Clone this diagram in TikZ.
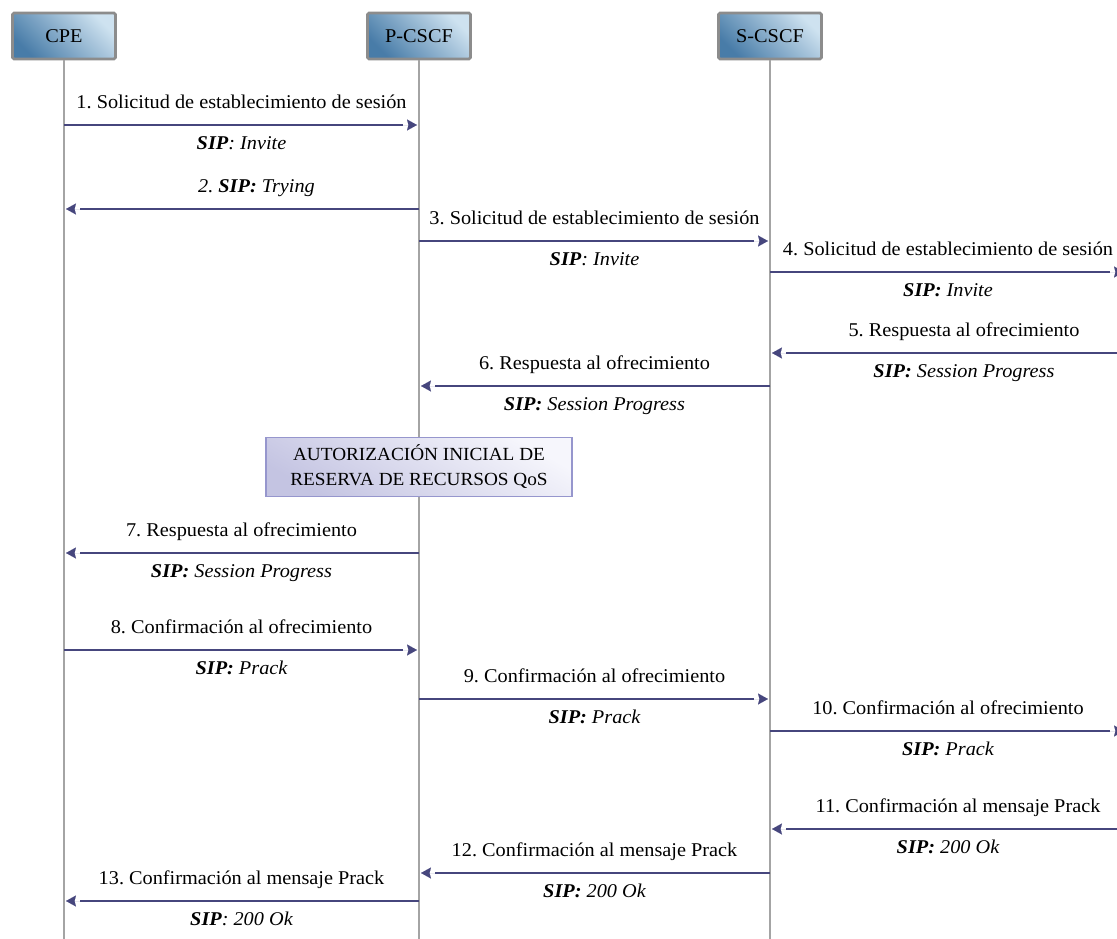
\documentclass[tikz,border=0pt]{standalone}
\usepackage{fontspec}
\setmainfont[FakeStretch=1.04]{Liberation Serif}
\usetikzlibrary{arrows.meta,shadows}

\definecolor{msgblue}{RGB}{70,70,125}
\definecolor{lifegray}{RGB}{164,164,164}
\definecolor{boxdark}{RGB}{72,124,168}
\definecolor{boxlight}{RGB}{206,226,240}
\definecolor{boxedge}{RGB}{140,140,140}
\definecolor{qosedge}{RGB}{150,150,205}
\definecolor{qosdark}{RGB}{196,196,226}
\definecolor{qoslight}{RGB}{246,246,252}

\begin{document}
\frenchspacing
\begin{tikzpicture}[x=1pt,y=-1pt,
  font=\fontsize{19.5}{23}\selectfont,
  actor/.style={draw=boxedge, line width=2.8pt, rounded corners=1.5pt,
    minimum width=103pt, minimum height=46pt, inner sep=0pt,
    top color=boxlight, bottom color=boxdark, shading angle=-45,
    drop shadow={opacity=0.2, shadow xshift=0.8pt, shadow yshift=-0.8pt}},
  qosbox/.style={draw=qosedge, line width=1.2pt, minimum width=306pt,
    minimum height=59pt, inner sep=0pt, align=center,
    top color=qoslight, bottom color=qosdark, shading angle=-30,
    font=\fontsize{18.5}{25}\selectfont},
  life/.style={draw=lifegray, line width=2.6pt},
  % message line stops short of its head, leaving a small gap
  msg/.style={draw=msgblue, line width=2pt, shorten >=16pt,
    postaction={draw=msgblue, line width=0.01pt, shorten >=2pt,
      -{Stealth[length=10pt,width=11pt,inset=1.5pt]}}},
  up/.style={midway, yshift=21pt, inner sep=0pt, text height=13pt, text depth=4pt},
  down/.style={midway, yshift=-20pt, inner sep=0pt, text height=13pt, text depth=4pt,
    font=\fontsize{19.5}{23}\selectfont\itshape},
]
\useasboundingbox (0,0) rectangle (1117,939);
\clip (0,0) rectangle (1117,939);

% participants
\node[actor] (cpe) at (64,36) {CPE};
\node[actor] (pcscf) at (419,36) {P-CSCF};
\node[actor] (scscf) at (770,36) {S-CSCF};
\coordinate (ext) at (1126,36);

% lifelines
\coordinate (cpe-end) at (cpe.south |- 0,945);
\coordinate (pcscf-end) at (pcscf.south |- 0,945);
\coordinate (scscf-end) at (scscf.south |- 0,945);
\draw[life] (cpe.south) -- (cpe-end);
\draw[life] (pcscf.south) -- (pcscf-end);
\draw[life] (scscf.south) -- (scscf-end);

% QoS authorisation step
\node[qosbox] (qos) at (419,467) {AUTORIZACIÓN INICIAL DE\\RESERVA DE RECURSOS QoS};

% messages
\draw[msg] (cpe |- 0,125) -- node[up] {1. Solicitud de establecimiento de sesión}
  node[down] {\textbf{SIP}: Invite} (pcscf |- 0,125);
\draw[msg] (pcscf |- 0,209) -- node[up, xshift=15pt] {\itshape 2. \textbf{SIP:} Trying} (cpe |- 0,209);
\draw[msg] (pcscf |- 0,241) -- node[up] {3. Solicitud de establecimiento de sesión}
  node[down] {\textbf{SIP}: Invite} (scscf |- 0,241);
\draw[msg] (scscf |- 0,272) -- node[up] {4. Solicitud de establecimiento de sesión}
  node[down] {\textbf{SIP:} Invite} (ext |- 0,272);
\draw[msg] (ext |- 0,353) -- node[up, xshift=16pt] {5. Respuesta al ofrecimiento}
  node[down, xshift=16pt] {\textbf{SIP:} Session Progress} (scscf |- 0,353);
\draw[msg] (scscf |- 0,386) -- node[up] {6. Respuesta al ofrecimiento}
  node[down] {\textbf{SIP:} Session Progress} (pcscf |- 0,386);
\draw[msg] (pcscf |- 0,553) -- node[up] {7. Respuesta al ofrecimiento}
  node[down] {\textbf{SIP:} Session Progress} (cpe |- 0,553);
\draw[msg] (cpe |- 0,650) -- node[up] {8. Confirmación al ofrecimiento}
  node[down] {\textbf{SIP:} Prack} (pcscf |- 0,650);
\draw[msg] (pcscf |- 0,699) -- node[up] {9. Confirmación al ofrecimiento}
  node[down] {\textbf{SIP:} Prack} (scscf |- 0,699);
\draw[msg] (scscf |- 0,731) -- node[up] {10. Confirmación al ofrecimiento}
  node[down] {\textbf{SIP:} Prack} (ext |- 0,731);
\draw[msg] (ext |- 0,829) -- node[up, xshift=10pt] {11. Confirmación al mensaje Prack}
  node[down] {\textbf{SIP:} 200 Ok} (scscf |- 0,829);
\draw[msg] (scscf |- 0,873) -- node[up] {12. Confirmación al mensaje Prack}
  node[down] {\textbf{SIP:} 200 Ok} (pcscf |- 0,873);
\draw[msg] (pcscf |- 0,901) -- node[up] {13. Confirmación al mensaje Prack}
  node[down] {\textbf{SIP}: 200 Ok} (cpe |- 0,901);
\end{tikzpicture}
\end{document}
